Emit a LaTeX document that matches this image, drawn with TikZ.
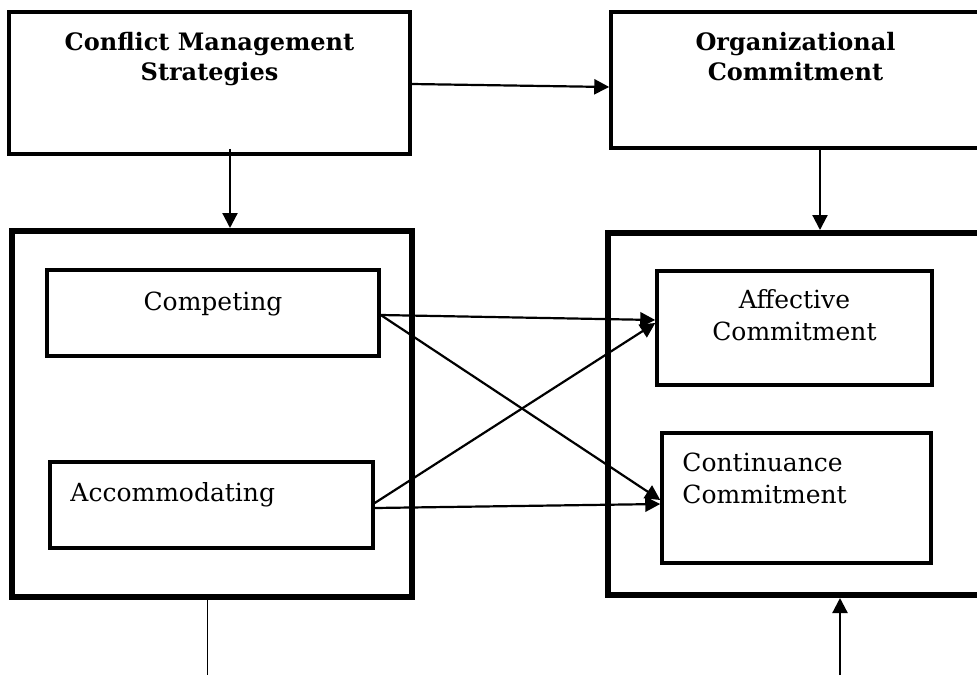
\documentclass[tikz,border=0pt]{standalone}
\usepackage{fontspec}
\setmainfont{DejaVu Serif}
\usepackage{tikz}
\usetikzlibrary{arrows.meta, positioning}
\tikzset{
	headbox/.style={
		draw,
		line width=3.5pt,
		inner sep=0pt
	},
	groupbox/.style={
		draw,
		line width=6pt,
		inner sep=0pt
	},
	itembox/.style={
		draw,
		line width=3.5pt,
		inner sep=0pt
	},
	arrow/.style={
		-{Triangle[length=15pt,width=15pt]},
		line width=2.2pt
	}
}

\begin{document}
\begin{tikzpicture}[x=1pt, y=-1pt]
		% Style des textes
		\tikzstyle{headtext}=[font=\fontsize{24}{30}\selectfont\bfseries, align=center, inner sep=0pt]
		\tikzstyle{itemtext}=[font=\fontsize{25}{32}\selectfont, inner sep=0pt]
		
		\clip (0,0) rectangle (977,675);
		
		%--- Boites du haut ---
		\node[headbox, minimum width=401pt, minimum height=142pt] (CMS) at (209.5,83) {};
		\node[headbox, minimum width=399pt, minimum height=136pt] (OC) at (810.5,80) {};
		\node[headtext, below=22pt of CMS.north] (CMSt) {Conflict Management\\Strategies};
		\node[headtext, below=22pt of OC.north, xshift=-15pt] (OCt) {Organizational\\Commitment};
		
		%--- Les deux groupes ---
		\node[groupbox, minimum width=400pt, minimum height=366pt] (LB) at (212,414) {};
		\node[groupbox, minimum width=402pt, minimum height=362pt] (RB) at (809,414) {};
		
		% Groupe gauche : strategies
		\node[itembox, minimum width=332pt, minimum height=86pt] (Comp) at (213,313) {};
		\node[itembox, minimum width=323pt, minimum height=86pt] (Acc) at (211.5,505) {};
		\node[itemtext, below=23pt of Comp.north] (Compt) {Competing};
		\node[itemtext, below right=22pt and 22pt of Acc.north west] (Acct) {Accommodating};
		
		% Groupe droite : engagement
		\node[itembox, minimum width=275pt, minimum height=114pt] (Aff) at (794.5,328) {};
		\node[itembox, minimum width=269pt, minimum height=130pt] (Cont) at (796.5,498) {};
		\node[itemtext, align=center, below=20pt of Aff.north] (Afft) {Affective\\Commitment};
		\node[itemtext, align=left, below right=21pt and 22pt of Cont.north west] (Contt) {Continuance\\Commitment};
		
		%--- Liaisons ---
		\draw[arrow] ([yshift=-1pt]CMS.east) -- ([yshift=-7pt]OC.west);
		\draw[arrow] ([xshift=20.5pt,yshift=7pt]CMS.south) -- ([xshift=18pt]LB.north);
		\draw[arrow] ([xshift=9.5pt]OC.south) -- ([xshift=11pt]RB.north);
		
		%--- Liaisons croisees ---
		\draw[arrow] ([yshift=-2pt]Comp.east) -- ([yshift=8pt]Aff.west);
		\draw[arrow] ([yshift=-2pt]Comp.east) -- ([yshift=-2pt]Cont.west);
		\draw[arrow] ([yshift=2pt]Acc.east) -- ([yshift=5pt]Aff.west);
		\draw[arrow] ([yshift=-3pt]Acc.east) -- ([yshift=-6pt]Cont.west);
		
		%--- Sorties vers le bas ---
		\coordinate (botL) at (207,675);
		\coordinate (botR) at (840,675);
		\draw[line width=1pt] (LB.south -| botL) -- (botL);
		\draw[arrow] (botR) -- (botR |- RB.south);
	\end{tikzpicture}
\end{document}
